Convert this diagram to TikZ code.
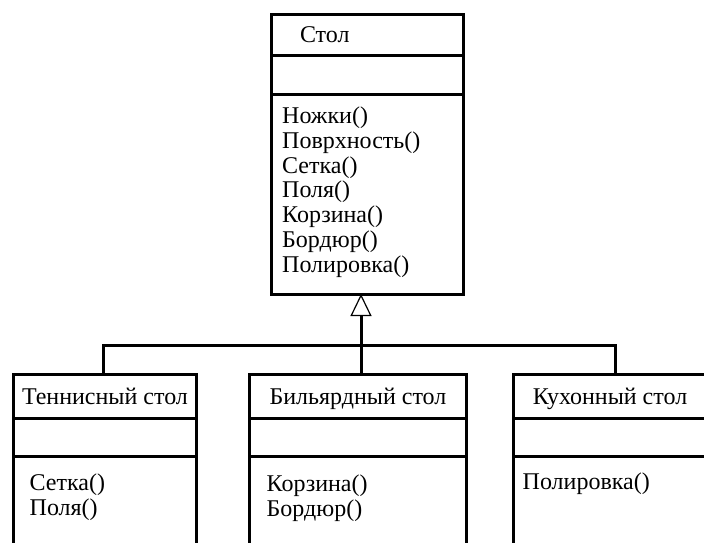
\documentclass[tikz,border=0pt]{standalone}
\usepackage{fontspec}
\setmainfont{Liberation Serif}
\usepackage{tikz}
\usetikzlibrary{arrows.meta, positioning}
\definecolor{ink}{RGB}{0,0,0}
\tikzset{
  part/.style={
    draw=ink,
    line width=3pt,
    inner sep=0pt,
    outer sep=0pt,
    anchor=north,
    align=center,
    text height=17pt,
    text depth=1pt,
    font=\fontsize{24}{24.7}\selectfont
  },
  titlePart/.style={part, minimum height=44pt},
  attrPart/.style={part, minimum height=38pt},
  opsPart/.style={part, minimum height=130pt},
  opsText/.style={
    inner sep=0pt,
    align=left,
    font=\fontsize{24}{24.7}\selectfont
  },
  link/.style={draw=ink, line width=3pt},
  inherit/.style={link, -{Triangle[open, length=22pt, width=21pt, line width=1.2pt]}}
}

\begin{document}
\begin{tikzpicture}[x=1pt, y=-1pt]
  \useasboundingbox (0,0) rectangle (704,542);
  \clip (0,0) rectangle (704,542);

  % base class
  \node[part, minimum width=192pt, minimum height=41pt, text width=134pt, inner xsep=29pt, align=left] (tableName) at (367,14) {Стол};
  \node[part, minimum width=192pt, minimum height=39pt, below=0pt of tableName] (tableAttr) {};
  \node[part, minimum width=192pt, minimum height=200pt, below=0pt of tableAttr] (tableOps) {};
  \node[opsText, below right=13pt and 11pt of tableOps.north west] (tableOpsText) {Ножки()\\Поврхность()\\Сетка()\\Поля()\\Корзина()\\Бордюр()\\Полировка()};

  % derived classes
  \node[titlePart, minimum width=183pt] (tennisName) at (105,374) {Теннисный стол};
  \node[attrPart, minimum width=183pt, below=0pt of tennisName] (tennisAttr) {};
  \node[opsPart, minimum width=183pt, below=0pt of tennisAttr] (tennisOps) {};
  \node[opsText, below right=18pt and 16pt of tennisOps.north west] (tennisOpsText) {Сетка()\\Поля()};

  \node[titlePart, minimum width=217pt] (billiardName) at (358,374) {Бильярдный стол};
  \node[attrPart, minimum width=217pt, below=0pt of billiardName] (billiardAttr) {};
  \node[opsPart, minimum width=217pt, below=0pt of billiardAttr] (billiardOps) {};
  \node[opsText, below right=19pt and 17pt of billiardOps.north west] (billiardOpsText) {Корзина()\\Бордюр()};

  \node[titlePart, minimum width=193pt] (kitchenName) at (610,374) {Кухонный стол};
  \node[attrPart, minimum width=193pt, below=0pt of kitchenName] (kitchenAttr) {};
  \node[opsPart, minimum width=193pt, below=0pt of kitchenAttr] (kitchenOps) {};
  \node[opsText, below right=17pt and 9pt of kitchenOps.north west] (kitchenOpsText) {Полировка()};

  \coordinate (hub) at (361,345);
  \draw[inherit] ([xshift=3pt]billiardName.north) -- ([xshift=-6pt]tableOps.south);
  \draw[link] ([xshift=-2pt]tennisName.north) |- (hub) -| ([xshift=5pt]kitchenName.north);
\end{tikzpicture}
\end{document}
